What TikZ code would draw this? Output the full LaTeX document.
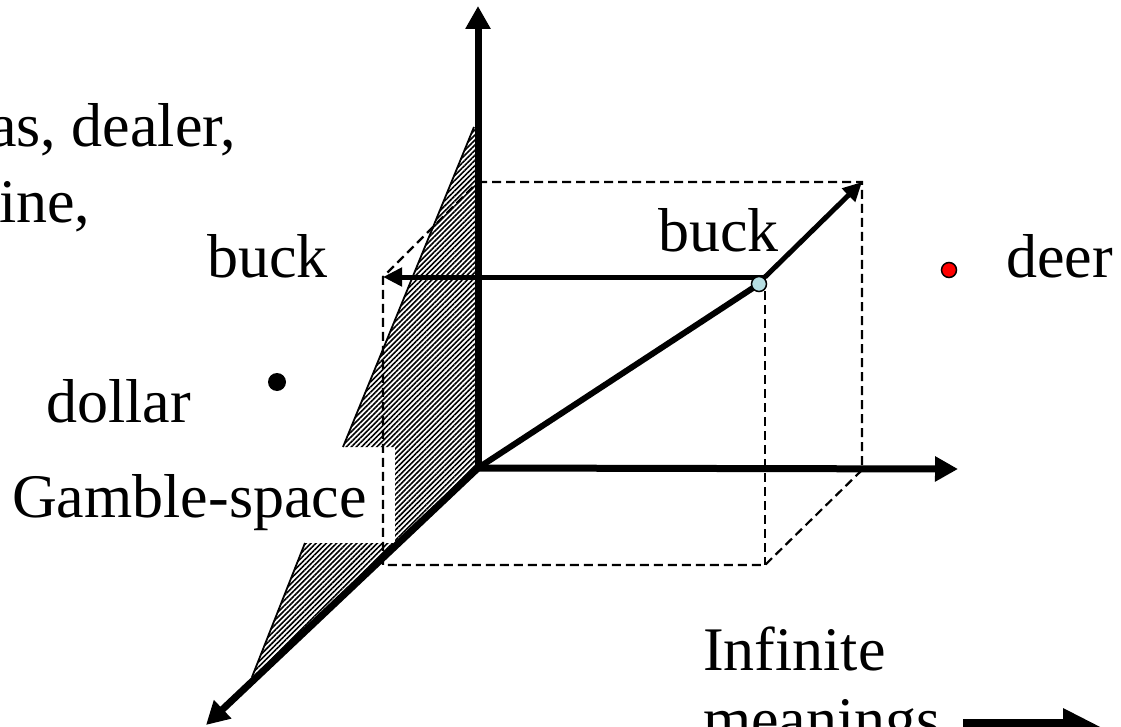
\documentclass[tikz,border=0pt]{standalone}
\usepackage{fontspec}
\setmainfont{Liberation Serif}
\usetikzlibrary{arrows.meta,patterns.meta}
\definecolor{ptblue}{RGB}{182,222,226}
\definecolor{ptred}{RGB}{255,0,0}
\begin{document}
\begin{tikzpicture}[x=1pt,y=-1pt,
  lbl/.style={inner sep=0pt,anchor=base west,font=\fontsize{62}{70}\selectfont},
  axis/.style={line width=7pt,-{Triangle[length=23pt,width=24pt]}},
  vec/.style={line width=5pt,-{Triangle[length=19pt,width=18pt]}},
  dsh/.style={line width=2.2pt,dash pattern=on 9pt off 5pt},
  edge/.style={line width=1.8pt},
  hatch/.style={pattern={Lines[angle=45,distance=3.6pt,line width=1.6pt]}}]
\useasboundingbox (0,0) rectangle (1121,727);
% coordinates
\coordinate (O) at (478,468);
\coordinate (A) at (478,182);
\coordinate (B) at (862,182);
\coordinate (C) at (862,470);
\coordinate (D) at (765,565);
\coordinate (E) at (383,565);
\coordinate (F) at (383,277);
\coordinate (P) at (765,277);
\coordinate (Q) at (759,284);
\coordinate (Yt) at (478,6);
\coordinate (Xt) at (958,469);
\coordinate (Zt) at (206,725);
% hatched plane
\fill[hatch] (474,127) -- (343,447) -- (395,447) -- (395,543) -- (305,543) -- (252,677) -- (O) -- (476,127) -- cycle;
\draw[edge] (474,127) -- (343,447);
\draw[edge] (305,543) -- (252,677);
% dashed box
\draw[dsh] (A) -- (B) -- (C) -- (D) -- (E) -- (F) -- (A);
\draw[dsh] (P) -- (D);
% axes
\draw[axis] (O) -- (Yt);
\draw[axis] (O) -- (Xt);
\draw[axis] (O) -- (Zt);
% vectors
\draw[line width=6pt] (O) -- (Q);
\draw[vec] (P) -- (F);
\draw[vec] (P) -- (B);
\node[circle,draw,line width=1.5pt,fill=ptblue,minimum size=15pt,inner sep=0pt] (q) at (Q) {};
% dots
\node[circle,fill=black,minimum size=18pt,inner sep=0pt] (dd) at (277,382) {};
\node[circle,draw,line width=1.5pt,fill=ptred,minimum size=15pt,inner sep=0pt] (rd) at (949,270) {};
% labels
\node[lbl] (t1) at (-11,147) {as, dealer,};
\node[lbl] (t2) at (-1,223) {ine,};
\node[lbl] (bl) at (207,277) {buck};
\node[lbl] (br) at (658,252) {buck};
\node[lbl] (dl) at (46,422) {dollar};
\node[lbl] (gs) at (12,517) {Gamble-space};
\node[lbl] (df) at (1006,277) {deer};
\node[lbl] (i1) at (703,670) {Infinite};
\node[lbl] (i2) at (703,740) {meanings};
% block arrow
\fill (963,719) -- (1063,719) -- (1063,708) -- (1106,730) -- (1063,752) -- (1063,741) -- (963,741) -- cycle;
\end{tikzpicture}
\end{document}
